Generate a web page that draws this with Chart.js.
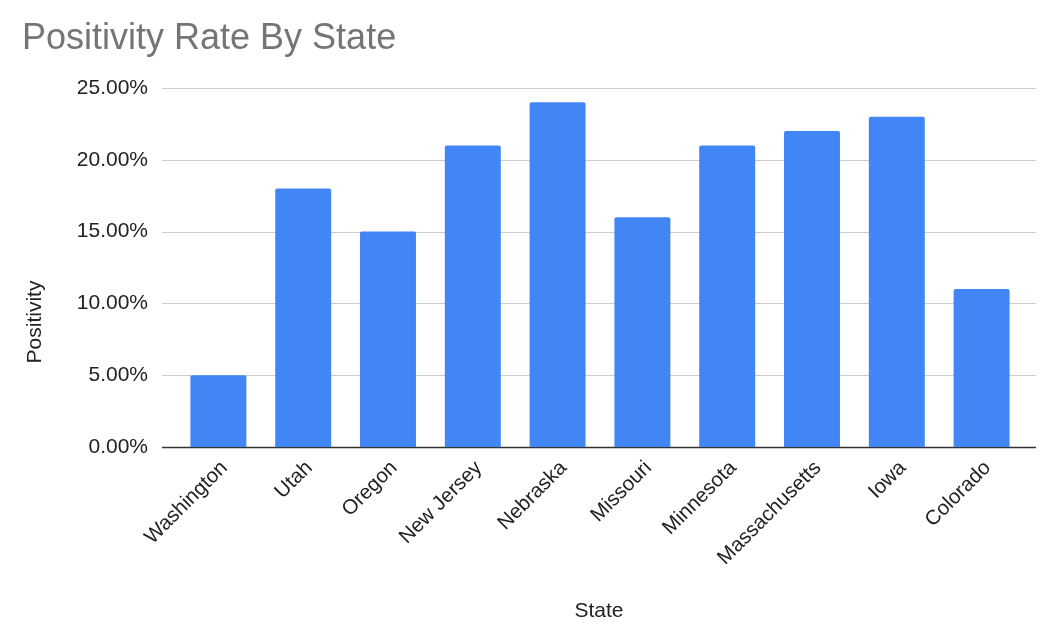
<!DOCTYPE html>
<html>
<head>
<meta charset="utf-8">
<script src="https://cdn.jsdelivr.net/npm/chart.js@4"></script>
<style>
  html, body { margin: 0; padding: 0; background: #fff; }
  #wrap { width: 1049px; height: 636px; position: relative; }
</style>
</head>
<body>
<div id="wrap"><canvas id="stateChart"></canvas></div>
<script>
const states = ['Washington', 'Utah', 'Oregon', 'New Jersey', 'Nebraska', 'Missouri', 'Minnesota', 'Massachusetts', 'Iowa', 'Colorado'];
const positivity = [0.05, 0.18, 0.15, 0.21, 0.24, 0.16, 0.21, 0.22, 0.23, 0.11];
const yTicks = [0, 0.05, 0.10, 0.15, 0.20, 0.25];

const FONT = "'Liberation Sans', Arial, sans-serif";

// google-sheets style: grid lines run a bit past the bars, titles drawn by hand
const sheetLook = {
    id: 'sheetLook',
    beforeDatasetsDraw(chart) {
        const ctx = chart.ctx;
        const area = chart.chartArea;
        const y = chart.scales.y;
        const x0 = area.left - 14, x1 = area.right + 12;
        ctx.save();
        yTicks.forEach(t => {
            const py = Math.round(y.getPixelForValue(t)) + 0.5;
            ctx.strokeStyle = t === 0 ? '#333333' : '#cccccc';
            ctx.lineWidth = t === 0 ? 1.5 : 1;
            ctx.beginPath();
            ctx.moveTo(x0, py);
            ctx.lineTo(x1, py);
            ctx.stroke();
        });
        ctx.restore();
    },
    afterDraw(chart) {
        const ctx = chart.ctx;
        ctx.save();
        ctx.fillStyle = '#757575';
        ctx.font = '36px ' + FONT;
        ctx.textAlign = 'left';
        ctx.textBaseline = 'alphabetic';
        ctx.fillText('Positivity Rate By State', 22, 49);

        ctx.fillStyle = '#222222';
        ctx.font = '21px ' + FONT;
        ctx.textAlign = 'center';
        ctx.fillText('State', 599, 617);

        ctx.translate(41, 322);
        ctx.rotate(-Math.PI / 2);
        ctx.fillText('Positivity', 0, 0);
        ctx.restore();
    }
};

new Chart(document.getElementById('stateChart').getContext('2d'), {
    type: 'bar',
    data: {
        labels: states,
        datasets: [{
            label: 'Positivity',
            data: positivity,
            backgroundColor: '#4285f4',
            borderWidth: 0,
            borderRadius: 2,
            barPercentage: 0.66,
            categoryPercentage: 1.0
        }]
    },
    options: {
        responsive: true,
        maintainAspectRatio: false,
        animation: false,
        layout: { padding: { top: 88, right: 25, left: 0, bottom: 0 } },
        plugins: {
            legend: { display: false },
            tooltip: { enabled: false }
        },
        scales: {
            x: {
                grid: { display: false, drawTicks: false },
                border: { display: false },
                ticks: {
                    color: '#222222',
                    font: { family: FONT, size: 20.5 },
                    minRotation: 45,
                    maxRotation: 45,
                    padding: 9,
                    labelOffset: 6,
                    autoSkip: false
                },
                afterFit(scale) { scale.height = 189; }
            },
            y: {
                min: 0,
                max: 0.25,
                grid: { display: false, drawTicks: false },
                border: { display: false },
                afterBuildTicks(scale) { scale.ticks = yTicks.map(v => ({ value: v })); },
                ticks: {
                    color: '#222222',
                    font: { family: FONT, size: 21 },
                    padding: 28,
                    callback: v => (v * 100).toFixed(2) + '%'
                },
                afterFit(scale) { scale.width = 176; }
            }
        }
    },
    plugins: [sheetLook]
});
</script>
</body>
</html>
